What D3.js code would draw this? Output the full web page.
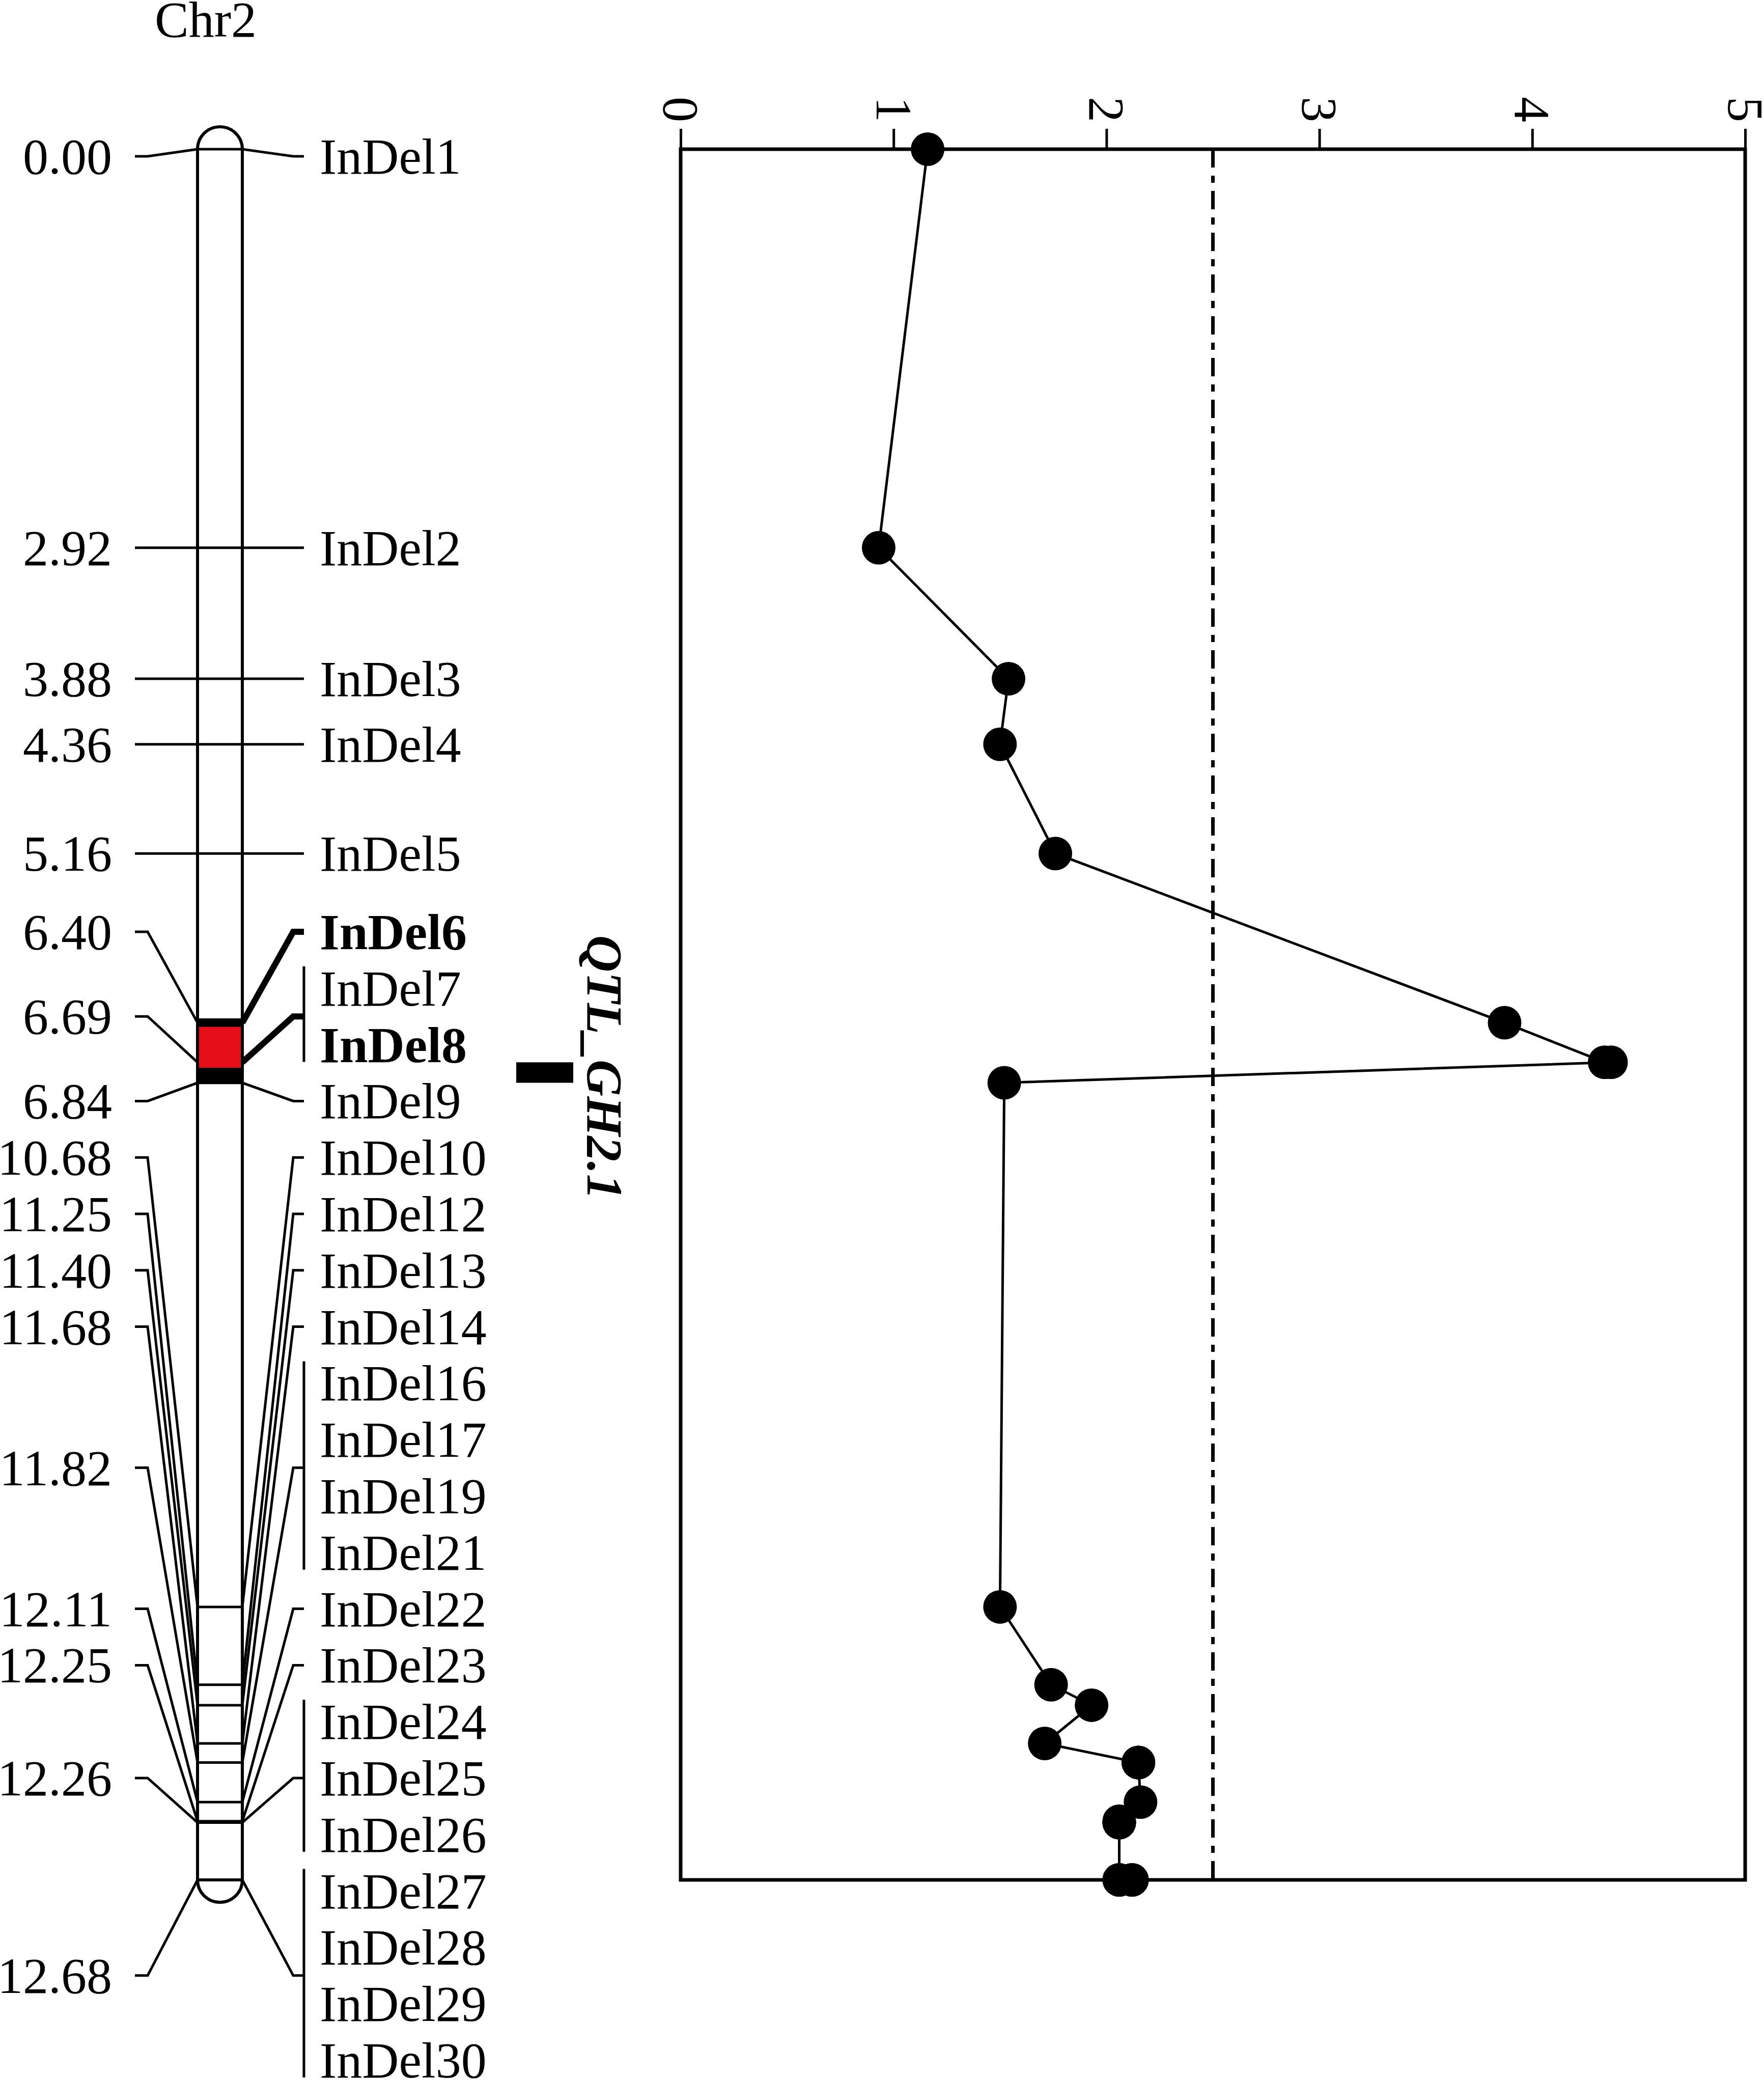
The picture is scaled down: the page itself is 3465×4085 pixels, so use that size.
<!DOCTYPE html>
<html>
<head>
<meta charset="utf-8">
<script src="https://cdn.jsdelivr.net/npm/d3@7"></script>
<style>
  body { margin: 0; background: #fff; }
  text { font-family: "Liberation Serif", "Times New Roman", serif; }
</style>
</head>
<body>
<div id="chart"></div>
<script>
// marker names and their map positions (cM) on Chr2
const chromName = "Chr2"
const markers = ["InDel1", "InDel2", "InDel3", "InDel4", "InDel5", "InDel6", "InDel7", "InDel8", "InDel9",
  "InDel10", "InDel12", "InDel13", "InDel14", "InDel16", "InDel17", "InDel19", "InDel21", "InDel22",
  "InDel23", "InDel24", "InDel25", "InDel26", "InDel27", "InDel28", "InDel29", "InDel30"]
const positions = [0.00, 2.92, 3.88, 4.36, 5.16, 6.40, 6.69, 6.69, 6.84,
  10.68, 11.25, 11.40, 11.68, 11.82, 11.82, 11.82, 11.82, 12.11,
  12.25, 12.26, 12.26, 12.26, 12.68, 12.68, 12.68, 12.68]
// LOD score at each marker
const lod = [1.16, 0.93, 1.54, 1.50, 1.76, 3.87, 4.34, 4.37, 1.52,
  1.50, 1.74, 1.93, 1.71, 2.15, 2.15, 2.15, 2.15, 2.16,
  2.06, 2.06, 2.06, 2.06, 2.06, 2.06, 2.12, 2.12]
const boldMarkers = ["InDel6", "InDel8"]
const lodTicks = [0, 1, 2, 3, 4, 5]
const threshold = 2.5
const qtlName = "QTL_GH2.1"
const qtlInterval = [6.69, 6.84]
const redSpan = [6.43, 6.73]     // coloured part of the chromosome
const blackSpan = [6.73, 6.85]   // filled part below it

const width = 3465
const height = 4085

const y = d3.scaleLinear().domain([0, d3.max(positions)]).range([293, 3692])
const x = d3.scaleLinear().domain([0, 5]).range([1337, 3428])

const svg = d3.select("#chart").append("svg")
  .attr("width", width)
  .attr("height", height)
  .style("background", "#fff")

// ---- label layout: spread labels so they don't overlap ----
const gap = 110.8
const topLimit = 307
const bottomLimit = 4046
const labelY = positions.map(p => y(p))
labelY[0] = Math.max(labelY[0], topLimit)
for (let i = 1; i < labelY.length; i++) labelY[i] = Math.max(labelY[i], labelY[i - 1] + gap)
labelY[labelY.length - 1] = Math.min(labelY[labelY.length - 1], bottomLimit)
for (let i = labelY.length - 2; i >= 0; i--) labelY[i] = Math.min(labelY[i], labelY[i + 1] - gap)

// groups of markers sharing one position
const groups = []
positions.forEach((p, i) => {
  const last = groups[groups.length - 1]
  if (last && last.pos === p) last.idx.push(i)
  else groups.push({ pos: p, idx: [i] })
})
groups.forEach(g => {
  g.ly = d3.mean(g.idx, i => labelY[i])
  g.bold = g.idx.some(i => boldMarkers.includes(markers[i]))
})

const chrL = 388, chrR = 476, capR = 44

// title
svg.append("text")
  .attr("x", 404).attr("y", 72)
  .attr("text-anchor", "middle")
  .attr("font-size", 100)
  .text(chromName)

// connectors
const conn = svg.append("g").attr("fill", "none").attr("stroke", "#000")
groups.forEach(g => {
  conn.append("polyline")
    .attr("points", [[chrL, y(g.pos)], [290, g.ly], [265, g.ly]].join(" "))
    .attr("stroke-width", 5)
  conn.append("polyline")
    .attr("points", [[chrR, y(g.pos)], [576, g.ly], [597, g.ly]].join(" "))
    .attr("stroke-width", g.bold ? 12 : 5)
  if (g.idx.length > 1) {
    conn.append("line")
      .attr("x1", 597).attr("x2", 597)
      .attr("y1", labelY[g.idx[0]] - 43)
      .attr("y2", labelY[g.idx[g.idx.length - 1]] + 34)
      .attr("stroke-width", 5)
  }
})

// position labels (left) and marker names (right)
svg.append("g").selectAll("text")
  .data(groups)
  .join("text")
  .attr("x", 220)
  .attr("y", d => d.ly)
  .attr("dy", "0.34em")
  .attr("text-anchor", "end")
  .attr("font-size", 100)
  .text(d => d.pos.toFixed(2))

svg.append("g").selectAll("text")
  .data(markers)
  .join("text")
  .attr("x", 628)
  .attr("y", (d, i) => labelY[i])
  .attr("dy", "0.34em")
  .attr("font-size", 100)
  .attr("font-weight", d => boldMarkers.includes(d) ? "bold" : "normal")
  .text(d => d)

// chromosome body
const y0 = y(0), y1 = y(d3.max(positions))
const chrPath = `M${chrL},${y0} A${capR},${capR} 0 0 1 ${chrR},${y0} L${chrR},${y1} A${capR},${capR} 0 0 1 ${chrL},${y1} Z`
svg.append("path").attr("d", chrPath).attr("fill", "#fff")

svg.append("g").selectAll("line")
  .data(positions)
  .join("line")
  .attr("x1", chrL).attr("x2", chrR)
  .attr("y1", d => y(d)).attr("y2", d => y(d))
  .attr("stroke", "#000")
  .attr("stroke-width", (d, i) => boldMarkers.includes(markers[i]) ? 17 : 5)

svg.append("rect")
  .attr("x", chrL).attr("width", chrR - chrL)
  .attr("y", y(redSpan[0])).attr("height", y(redSpan[1]) - y(redSpan[0]))
  .attr("fill", "#e60f17")
svg.append("rect")
  .attr("x", chrL).attr("width", chrR - chrL)
  .attr("y", y(blackSpan[0])).attr("height", y(blackSpan[1]) - y(blackSpan[0]))
  .attr("fill", "#000")

svg.append("path").attr("d", chrPath)
  .attr("fill", "none").attr("stroke", "#000").attr("stroke-width", 6)

// QTL bar and name
svg.append("rect")
  .attr("x", 1014).attr("width", 112)
  .attr("y", y(qtlInterval[0])).attr("height", y(qtlInterval[1]) - y(qtlInterval[0]))
  .attr("fill", "#000")
svg.append("text")
  .attr("transform", `translate(1154,${y(d3.mean(qtlInterval)) - 10}) rotate(90)`)
  .attr("text-anchor", "middle")
  .attr("font-size", 100)
  .attr("font-weight", "bold")
  .attr("font-style", "italic")
  .text(qtlName)

// ---- LOD plot ----
const plot = svg.append("g")
plot.append("rect")
  .attr("x", x(0)).attr("y", y0)
  .attr("width", x(5) - x(0)).attr("height", y1 - y0)
  .attr("fill", "none").attr("stroke", "#000").attr("stroke-width", 7)

const xAxis = d3.axisTop(x).tickValues(lodTicks).tickFormat(d3.format("d")).tickSize(40).tickSizeOuter(0)
const ax = plot.append("g")
  .attr("transform", "translate(0," + y0 + ")")
  .call(xAxis)
ax.select(".domain").remove()
ax.selectAll(".tick line").attr("stroke-width", 5)
ax.selectAll(".tick text")
  .attr("x", null).attr("y", null)
  .attr("transform", "translate(0,-53) rotate(90)")
  .attr("text-anchor", "end")
  .attr("dy", "0.34em")
  .attr("font-size", 100)
  .attr("font-family", "Liberation Serif, Times New Roman, serif")

plot.append("line")
  .attr("x1", x(threshold)).attr("x2", x(threshold))
  .attr("y1", y0).attr("y2", y1)
  .attr("stroke", "#000").attr("stroke-width", 7)
  .attr("stroke-dasharray", "36,16,14,16")

const pts = positions.map((p, i) => [x(lod[i]), y(p)])
plot.append("path")
  .attr("d", d3.line()(pts))
  .attr("fill", "none").attr("stroke", "#000").attr("stroke-width", 5)

plot.selectAll("circle")
  .data(pts)
  .join("circle")
  .attr("cx", d => d[0]).attr("cy", d => d[1])
  .attr("r", 33)
  .attr("fill", "#000")
</script>
</body>
</html>
